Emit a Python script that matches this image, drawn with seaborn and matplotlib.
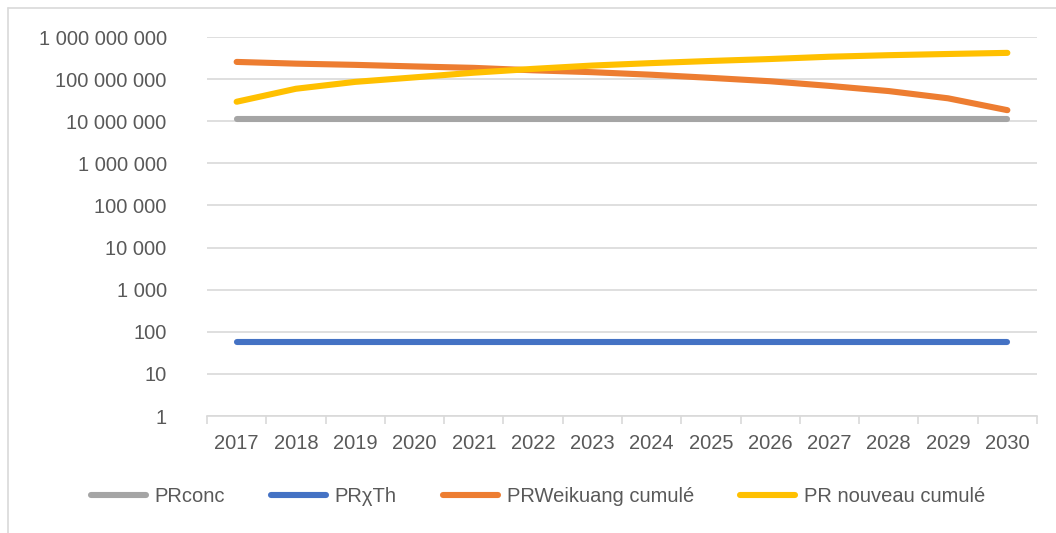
import numpy as np
import pandas as pd
import matplotlib
matplotlib.use("Agg")
import matplotlib.pyplot as plt
from matplotlib.ticker import FixedLocator, FuncFormatter
from matplotlib.lines import Line2D
import seaborn as sns

# Years on the category axis
years = ["2017", "2018", "2019", "2020", "2021", "2022", "2023",
         "2024", "2025", "2026", "2027", "2028", "2029", "2030"]

# Series values
pr_conc = [1.1e7] * 14
pr_chi_th = [58] * 14
pr_weikuang = [2.56e8, 2.33e8, 2.18e8, 2.0e8, 1.85e8, 1.62e8, 1.46e8,
               1.27e8, 1.07e8, 8.9e7, 6.9e7, 5.2e7, 3.5e7, 1.83e7]
pr_nouveau = [2.9e7, 5.9e7, 8.6e7, 1.1e8, 1.42e8, 1.75e8, 2.1e8,
              2.4e8, 2.7e8, 3.0e8, 3.4e8, 3.7e8, 3.95e8, 4.2e8]

series_names = ["PRconc", "PRχTh", "PRWeikuang cumulé", "PR nouveau cumulé"]
series_values = [pr_conc, pr_chi_th, pr_weikuang, pr_nouveau]
series_colors = ["#A5A5A5", "#4472C4", "#ED7D31", "#FFC000"]

y_ticks = [1, 10, 100, 1e3, 1e4, 1e5, 1e6, 1e7, 1e8, 1e9]

frames = []
for name, vals in zip(series_names, series_values):
    frames.append(pd.DataFrame({"x": np.arange(len(years)), "value": vals, "series": name}))
df = pd.concat(frames, ignore_index=True)

sns.set_style("white")
plt.rcParams["font.family"] = ["Liberation Sans", "DejaVu Sans"]

fig = plt.figure(figsize=(10.56, 5.33), dpi=100)
ax = fig.add_axes([207 / 1056, 1 - 416 / 533, 830 / 1056, 379 / 533])

sns.lineplot(data=df, x="x", y="value", hue="series", hue_order=series_names,
             palette=series_colors, linewidth=4.4, ax=ax, legend=False,
             solid_capstyle="round")

ax.set_yscale("log")
ax.set_ylim(1, 1e9)
ax.set_xlim(-0.5, len(years) - 0.5)

grid_color = "#D9D9D9"
text_color = "#595959"

ax.yaxis.set_major_locator(FixedLocator(y_ticks))
ax.yaxis.set_minor_locator(FixedLocator([]))
ax.yaxis.set_major_formatter(FuncFormatter(lambda v, _: f"{int(round(v)):,}".replace(",", " ")))
ax.grid(axis="y", color=grid_color, linewidth=1.2)
ax.set_axisbelow(True)

ax.set_xticks(np.arange(len(years)))
ax.set_xticklabels(years)
ax.set_xticks(np.arange(len(years) + 1) - 0.5, minor=True)
ax.tick_params(axis="x", which="major", length=0, pad=13, labelsize=14.5, labelcolor=text_color)
# Category boundary ticks below the axis line
ax.tick_params(axis="x", which="minor", bottom=True, length=6, width=1.2,
               color=grid_color, direction="out")
ax.tick_params(axis="y", which="both", length=0, pad=29, labelsize=14.5, labelcolor=text_color)

for side in ["top", "right", "left"]:
    ax.spines[side].set_visible(False)
ax.spines["bottom"].set_color(grid_color)
ax.spines["bottom"].set_linewidth(1.2)

ax.set_xlabel("")
ax.set_ylabel("")

handles = [Line2D([0], [0], color=c, linewidth=4.4, solid_capstyle="round") for c in series_colors]
fig.legend(handles, series_names, loc="center", ncol=4, frameon=False,
           bbox_to_anchor=(538 / 1056, 1 - 497 / 533), fontsize=14.5,
           handlelength=2.7, handletextpad=0.45, columnspacing=2.3,
           labelcolor=text_color)

# Chart border (left and top edges visible)
fig.add_artist(Line2D([8 / 1056, 8 / 1056], [0, 1 - 8 / 533], color=grid_color,
                      linewidth=1.2, transform=fig.transFigure))
fig.add_artist(Line2D([8 / 1056, 1], [1 - 8 / 533, 1 - 8 / 533], color=grid_color,
                      linewidth=1.2, transform=fig.transFigure))

fig.savefig("out.png", dpi=100, facecolor="white")
